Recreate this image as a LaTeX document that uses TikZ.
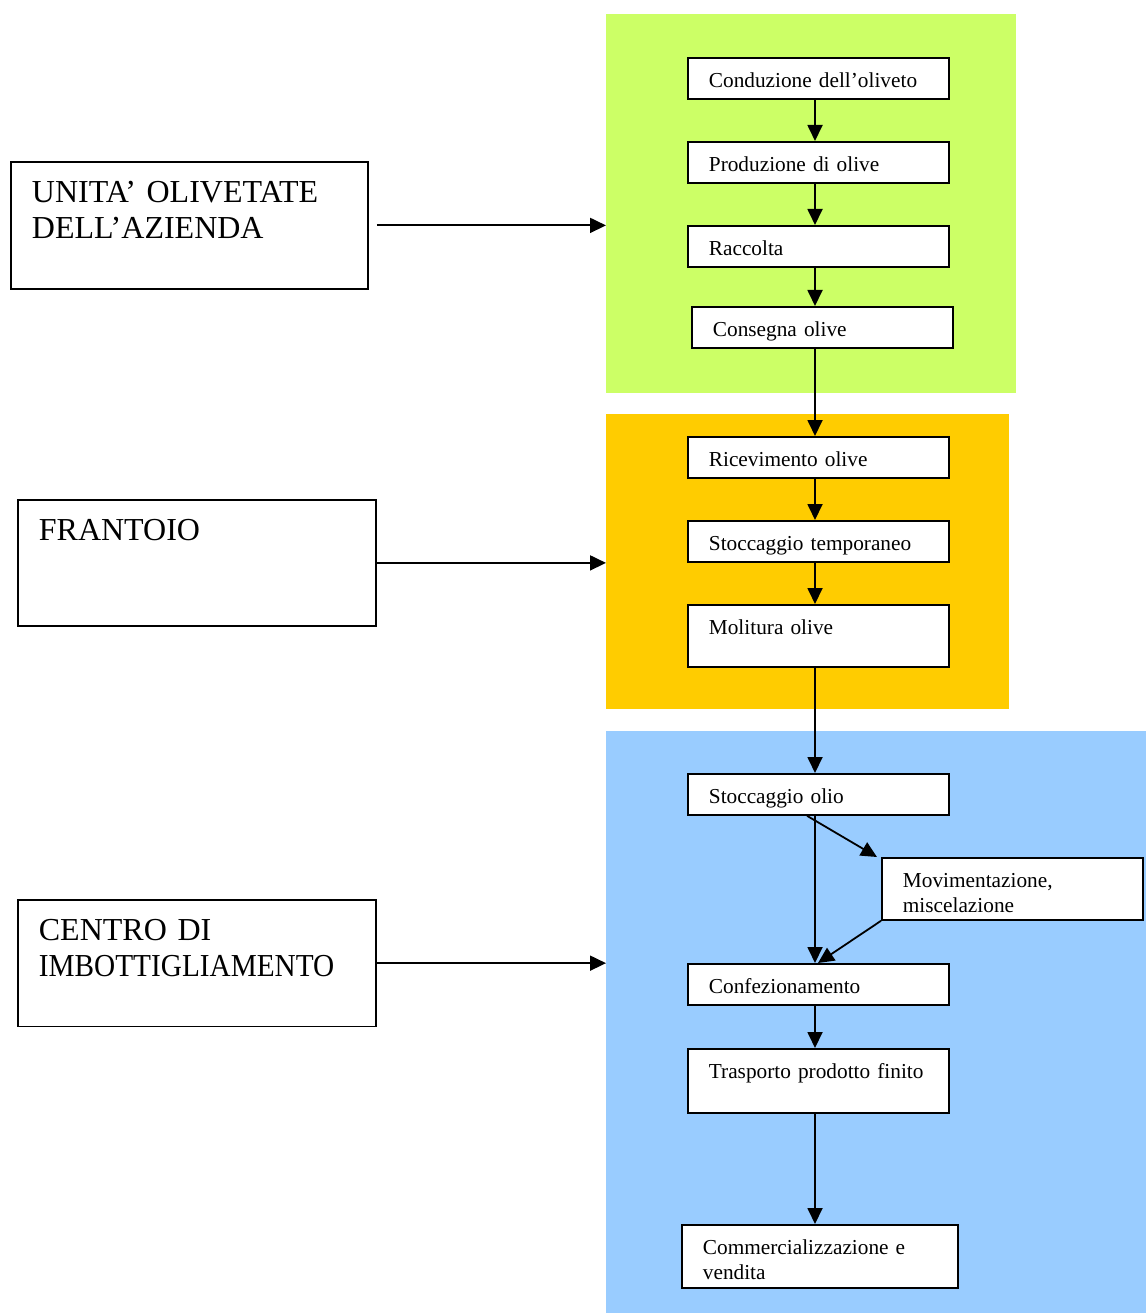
\documentclass[tikz,border=0pt]{standalone}
\usepackage{fontspec}
\setmainfont{Liberation Serif}
\usetikzlibrary{arrows.meta}
\definecolor{zgreen}{HTML}{CCFF66}
\definecolor{zorange}{HTML}{FFCC00}
\definecolor{zblue}{HTML}{99CCFF}
\tikzset{
  zone/.style={fill=#1, draw=none, anchor=north west, inner sep=0pt},
  stepbox/.style={draw, fill=white, line width=1.8pt, anchor=north west,
    inner xsep=21pt, inner ysep=0pt, text height=30pt, text depth=11pt,
    text width=219pt, align=left, font=\fontsize{21.3}{25}\selectfont},
  bigbox/.style={draw, fill=white, line width=1.8pt, anchor=north west,
    inner xsep=21pt, inner ysep=0pt, text height=40.5pt, text depth=86pt,
    text width=316pt, align=left, font=\fontsize{32}{36}\selectfont},
  conn/.style={line width=1.8pt, -{Triangle[length=16pt,width=15pt]}},
}
\begin{document}
\begin{tikzpicture}[x=1pt,y=-1pt]
\useasboundingbox (0,0) rectangle (1146,1313);
% zones
\node[zone=zgreen, minimum width=410pt, minimum height=379pt] (z1) at (606,14) {};
\node[zone=zorange, minimum width=403pt, minimum height=295pt] (z2) at (606,414) {};
\node[zone=zblue, minimum width=540pt, minimum height=582pt] (z3) at (606,731) {};
\coordinate (spine) at (815,0);
% left boxes
\node[bigbox, text width=315pt, text depth=86.5pt] (unita) at (10,161) {UNITA’ OLIVETATE\\DELL’AZIENDA};
\node[bigbox, text depth=85.5pt] (frant) at (17,499) {FRANTOIO};
\node[bigbox] (centro) at (17,899) {CENTRO DI\\\scalebox{0.915}[1]{IMBOTTIGLIAMENTO}};
% steps
\node[stepbox] (cond) at (687,57) {Conduzione dell’oliveto};
\node[stepbox] (prod) at (687,141) {Produzione di olive};
\node[stepbox] (racc) at (687,225) {Raccolta};
\node[stepbox] (cons) at (691,306) {Consegna olive};
\node[stepbox] (ric) at (687,436) {Ricevimento olive};
\node[stepbox] (stt) at (687,520) {Stoccaggio temporaneo};
\node[stepbox, text depth=32pt] (mol) at (687,604) {Molitura olive};
\node[stepbox] (sto) at (687,773) {Stoccaggio olio};
\node[stepbox, text depth=32pt] (mov) at (881,857) {Movimentazione,\\miscelazione};
\node[stepbox] (conf) at (687,963) {Confezionamento};
\node[stepbox, text depth=34pt] (tras) at (687,1048) {Trasporto prodotto finito};
\node[stepbox, text width=234pt, text depth=33pt] (comm) at (681,1224) {Commercializzazione e\\vendita};
% vertical connectors
\draw[conn] (cond.south -| spine) -- (prod.north -| spine);
\draw[conn] (prod.south -| spine) -- (racc.north -| spine);
\draw[conn] (racc.south -| spine) -- (cons.north -| spine);
\draw[conn] (cons.south -| spine) -- (ric.north -| spine);
\draw[conn] (ric.south -| spine) -- (stt.north -| spine);
\draw[conn] (stt.south -| spine) -- (mol.north -| spine);
\draw[conn] (mol.south -| spine) -- (sto.north -| spine);
\draw[conn] (sto.south -| spine) -- (conf.north -| spine);
\draw[conn] ([xshift=-8pt]sto.south -| spine) -- ([xshift=-4pt]mov.north west);
\draw[conn] (mov.south west) -- ([xshift=3pt]conf.north -| spine);
\draw[conn] (conf.south -| spine) -- (tras.north -| spine);
\draw[conn] (tras.south -| spine) -- (comm.north -| spine);
% horizontal connectors
\draw[conn] ([xshift=8pt]unita.east) -- (unita.east -| z1.west);
\draw[conn] (frant.east) -- (frant.east -| z2.west);
\draw[conn] (centro.east) -- (centro.east -| z3.west);
\end{tikzpicture}
\end{document}
